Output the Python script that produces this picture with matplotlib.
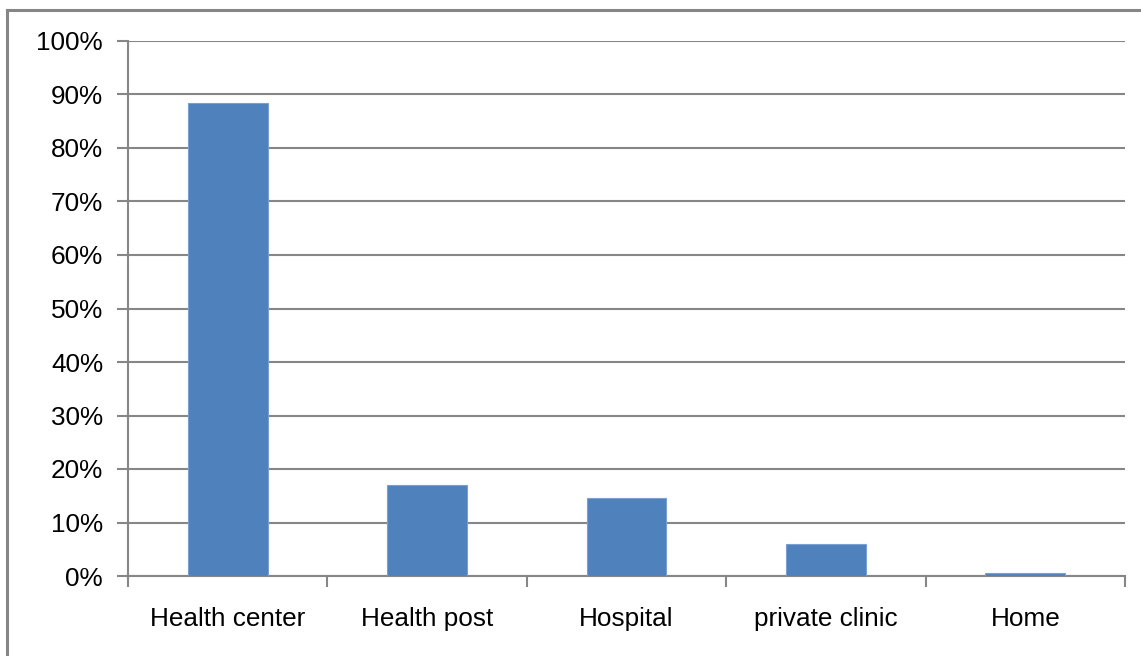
import numpy as np
import matplotlib.pyplot as plt
from matplotlib.lines import Line2D
from matplotlib.ticker import FixedLocator, PercentFormatter

# place of delivery, share of respondents (%)
places = ['Health center', 'Health post', 'Hospital', 'private clinic', 'Home']
shares = [88.5, 17.0, 14.6, 5.9, 0.6]
yticks = list(range(0, 101, 10))

W, H = 1141, 656
fig = plt.figure(figsize=(W / 100, H / 100), dpi=100)
plt.rcParams['font.family'] = ['Liberation Sans', 'DejaVu Sans']

grey = '#868686'

# outer chart frame (only left and top edges are visible)
fig.add_artist(Line2D([7 / W, 7 / W], [0, 1 - 10 / H], color=grey, lw=2.2))
fig.add_artist(Line2D([7 / W, 1], [1 - 10 / H, 1 - 10 / H], color=grey, lw=2.2))

ax = fig.add_axes([128 / W, (H - 576) / H, (1125 - 128) / W, (576 - 41) / H])

x = np.arange(len(places))
ax.bar(x, shares, width=0.4, color='#4F81BD', edgecolor='#7A9FD1', linewidth=0.8, zorder=3)

ax.set_xlim(-0.5, len(places) - 0.5)
ax.set_ylim(0, 100)
ax.set_yticks(yticks)
ax.yaxis.set_major_formatter(PercentFormatter(decimals=0))
ax.grid(axis='y', color=grey, lw=1.5, zorder=0)

# category boundaries carry the tick marks, labels sit at centres
ax.xaxis.set_major_locator(FixedLocator(np.arange(-0.5, len(places), 1.0)))
ax.xaxis.set_minor_locator(FixedLocator(x))
ax.set_xticklabels([], minor=False)
ax.set_xticklabels(places, minor=True)
ax.tick_params(axis='x', which='major', length=8, width=1.5, color=grey)
ax.tick_params(axis='x', which='minor', length=0, pad=22, labelsize=18.8)
ax.tick_params(axis='y', length=8, width=1.5, color=grey, pad=10, labelsize=18.8)

for side in ['top', 'right']:
    ax.spines[side].set_visible(False)
for side in ['left', 'bottom']:
    ax.spines[side].set_color(grey)
    ax.spines[side].set_linewidth(1.5)

fig.savefig('out.png', dpi=100)
